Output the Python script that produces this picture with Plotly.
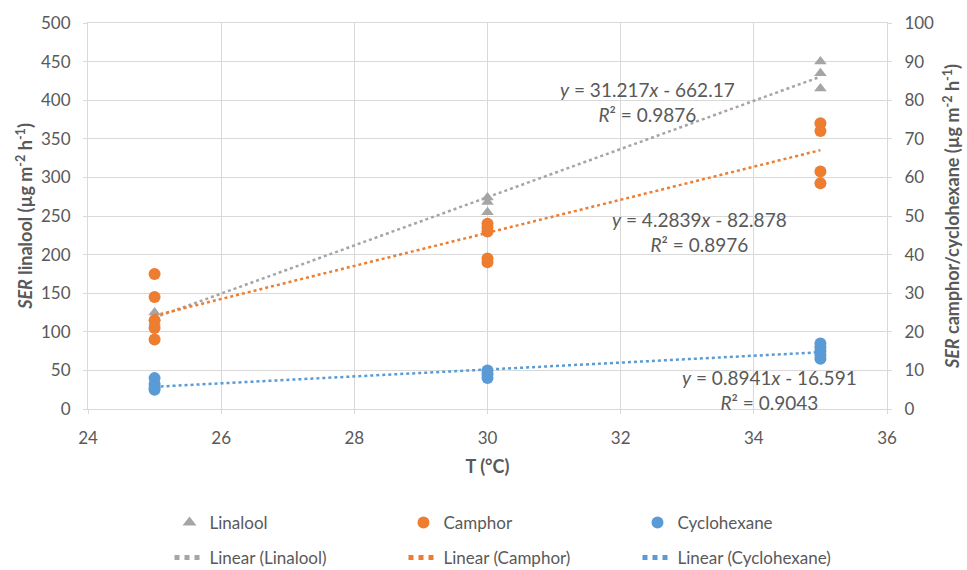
import plotly.graph_objects as go

# ---- data ----
lin_T = [25, 25, 25, 30, 30, 30, 35, 35, 35]
lin_ser = [125, 118, 112, 274, 255, 268, 450, 435, 415]

cam_T = [25, 25, 25, 25, 25, 30, 30, 30, 30, 30, 35, 35, 35, 35]
cam_ser = [35, 29, 23, 21, 18, 48, 47, 46, 39, 38, 74, 72, 61.5, 58.5]

cyc_T = [25, 25, 25, 25, 30, 30, 30, 35, 35, 35, 35, 35]
cyc_ser = [8, 6.5, 5.5, 5, 10, 9, 8, 17, 16, 15, 14, 13]

fits = {
    "Linalool": (31.217, -662.17, 0.9876),
    "Camphor": (4.2839, -82.878, 0.8976),
    "Cyclohexane": (0.8941, -16.591, 0.9043),
}
fit_T = [25, 35]

x_ticks = [24, 26, 28, 30, 32, 34, 36]

GREY = "#a5a5a5"
ORANGE = "#ed7d31"
BLUE = "#5b9bd5"
TXT = "#595959"
GRID = "#d9d9d9"
FONT = "Lato"

fig = go.Figure()

fig.add_trace(go.Scatter(x=lin_T, y=lin_ser, mode="markers", name="Linalool", legend="legend",
                         marker=dict(symbol="triangle-up", size=11, color=GREY)))
fig.add_trace(go.Scatter(x=cam_T, y=cam_ser, mode="markers", name="Camphor", yaxis="y2", legend="legend",
                         marker=dict(symbol="circle", size=12, color=ORANGE)))
fig.add_trace(go.Scatter(x=cyc_T, y=cyc_ser, mode="markers", name="Cyclohexane", yaxis="y2", legend="legend",
                         marker=dict(symbol="circle", size=12, color=BLUE)))

def line(name):
    a, b, _ = fits[name]
    return [a * t + b for t in fit_T]

fig.add_trace(go.Scatter(x=fit_T, y=line("Linalool"), mode="lines", name="Linear (Linalool)", legend="legend2",
                         line=dict(color=GREY, width=2.5, dash="dot")))
fig.add_trace(go.Scatter(x=fit_T, y=line("Camphor"), mode="lines", name="Linear (Camphor)", yaxis="y2",
                         legend="legend2", line=dict(color=ORANGE, width=2.5, dash="dot")))
fig.add_trace(go.Scatter(x=fit_T, y=line("Cyclohexane"), mode="lines", name="Linear (Cyclohexane)", yaxis="y2",
                         legend="legend2", line=dict(color=BLUE, width=2.5, dash="dot")))

def eq_text(name):
    a, b, r2 = fits[name]
    sign = "-" if b < 0 else "+"
    return f"<i>y</i> = {a}<i>x</i> {sign} {abs(b)}<br><i>R</i>² = {r2}"

ann_pos = {"Linalool": (32.40, 398), "Camphor": (33.18, 229), "Cyclohexane": (34.23, 25)}
for name, (ax_, ay_) in ann_pos.items():
    fig.add_annotation(x=ax_, y=ay_, xref="x", yref="y", text=eq_text(name), showarrow=False,
                       align="center", font=dict(family=FONT, size=19, color=TXT))

axis_common = dict(showline=True, linecolor=GRID, zeroline=False, automargin=False,
                   ticks="outside", ticklen=4, tickcolor=GRID,
                   tickfont=dict(family=FONT, size=17, color=TXT))

legend_common = dict(orientation="h", xanchor="left", yanchor="middle",
                     entrywidth=189, entrywidthmode="pixels", bgcolor="rgba(0,0,0,0)",
                     font=dict(family=FONT, size=17, color=TXT), itemsizing="constant")

fig.update_layout(
    width=967, height=570,
    paper_bgcolor="white", plot_bgcolor="white",
    margin=dict(l=88, r=80, t=23, b=161, autoexpand=False),
    font=dict(family=FONT, size=15, color=TXT),
    xaxis=dict(range=[24, 36], tickvals=x_ticks, showgrid=True, gridcolor=GRID, gridwidth=1,
               mirror=True, ticklabelstandoff=10,
               title=dict(text="<b>T (°C)</b>", font=dict(family=FONT, size=18, color=TXT), standoff=12),
               **axis_common),
    yaxis=dict(range=[0, 500], dtick=50, showgrid=True, gridcolor=GRID, gridwidth=1,
               ticklabelstandoff=9,
               title=dict(text="<b><i>SER</i> linalool (µg m<sup>-2</sup> h<sup>-1</sup>)</b>",
                          font=dict(family=FONT, size=18, color=TXT), standoff=3),
               **axis_common),
    yaxis2=dict(range=[0, 100], dtick=10, overlaying="y", side="right", showgrid=False,
                ticklabelstandoff=9,
                title=dict(text="<b><i>SER</i> camphor/cyclohexane (µg m<sup>-2</sup> h<sup>-1</sup>)</b>",
                           font=dict(family=FONT, size=18, color=TXT), standoff=13),
                **axis_common),
    legend=dict(x=0.102, y=-0.295, **legend_common),
    legend2=dict(x=0.102, y=-0.386, **legend_common),
    showlegend=True,
)

fig.write_html("out.html", config={"displayModeBar": False},
               post_script="document.body.style.margin='0';document.body.style.overflow='hidden';")
